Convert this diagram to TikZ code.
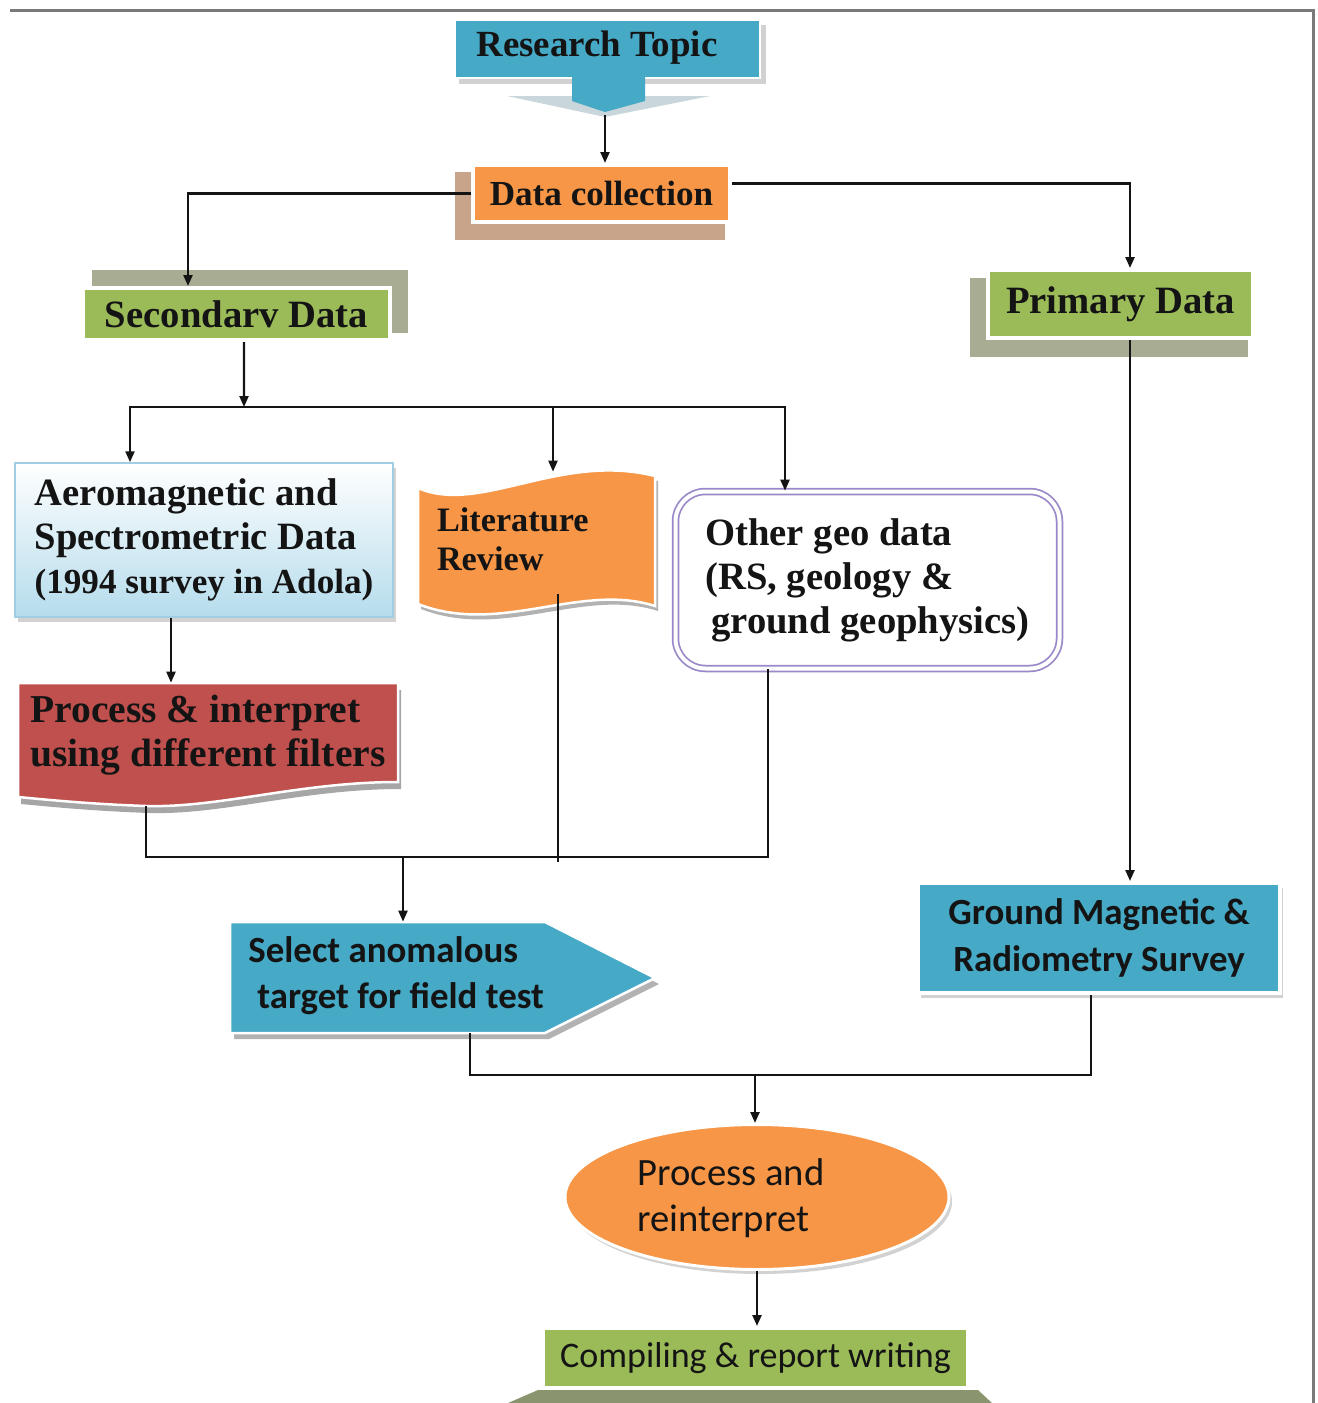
\documentclass[tikz,border=0pt]{standalone}
\usepackage{fontspec}
\setmainfont{Liberation Serif}
\newfontfamily\calibrifont{Carlito}
\usetikzlibrary{arrows.meta, shapes.geometric, shadows}
\definecolor{BLUE}{HTML}{46A9C6}
\definecolor{ORANGE}{HTML}{F79646}
\definecolor{GREEN}{HTML}{9BBB59}
\definecolor{RED}{HTML}{C0504D}
\definecolor{TAN}{HTML}{C8A58A}
\definecolor{OLIVE}{HTML}{A7AC92}
\definecolor{OLIVEDARK}{HTML}{8A9570}
\definecolor{PURPLE}{HTML}{9A88C8}
\definecolor{SKY}{HTML}{B5DCEC}
\definecolor{SKYLINE}{HTML}{A2CEE2}
\definecolor{SHADE}{HTML}{C9D6DC}
\definecolor{FRAME}{HTML}{7A7A7A}
\definecolor{INK}{HTML}{141414}

\begin{document}
\begin{tikzpicture}[x=0.2mm, y=-0.2mm, >={Triangle[length=2.2mm,width=1.8mm]},
    link/.style={INK, line width=0.45mm},
    serif/.style={text=INK, font=\bfseries\fontsize{22}{25}\selectfont},
    calib/.style={text=INK, font=\calibrifont\bfseries\fontsize{21}{26}\selectfont},
    wordbox/.style={rectangle, draw=white, line width=0.8mm, inner sep=0pt, align=left},
    bare/.style={rectangle, inner sep=0pt, align=left},
    softshadow/.style={drop shadow={shadow xshift=0.6mm, shadow yshift=-0.9mm, fill=black!35, opacity=0.5}}]
    \useasboundingbox (0,0) rectangle (1318,1403);
    % page frame
    \draw[FRAME, line width=0.6mm] (10,10) -- (1313,10) -- (1313,1403);

    % research topic callout
    \fill[black!18] (459,25) rectangle (766,84);
    \fill[SHADE] (507,96) -- (710,96) -- (605,117) -- cycle;
    \fill[BLUE, draw=white, line width=0.5mm] (455,20) rectangle (760,78);
    \fill[BLUE] (572,77) -- (645,77) -- (645,101) -- (605,112) -- (572,101) -- cycle;
    \node[serif, font=\bfseries\fontsize{21}{24}\selectfont] (topic) at (597,48) {Research Topic};
    \coordinate (topictip) at (605,115);

    % data collection and the two branches
    \fill[TAN] (455,172) rectangle (725,240);
    \node[wordbox, fill=ORANGE, serif, font=\bfseries\fontsize{20}{23}\selectfont,
          minimum width=51.4mm, minimum height=11.4mm] (collect) at (601.5,193.5) {Data collection};
    \fill[OLIVE] (92,270) rectangle (408,333);
    \node[wordbox, fill=GREEN, serif, minimum width=61.4mm, minimum height=10.4mm] (second) at (236.5,314) {Secondarv Data};
    \fill[OLIVE] (970,278) rectangle (1248,357);
    \node[wordbox, fill=GREEN, serif, minimum width=53mm, minimum height=13.6mm] (prim) at (1120.5,304) {Primary Data};

    % secondary sources
    \node[wordbox, draw=SKYLINE, line width=0.3mm, top color=white, bottom color=SKY, softshadow, serif,
          minimum width=75.6mm, minimum height=30.8mm] (aero) at (204,540)
          {Aeromagnetic and\\Spectrometric Data\\{\fontsize{20}{23}\selectfont(1994 survey in Adola)}};
    \fill[black!30, shift={(3,5)}] (418,488) .. controls (480,515) and (560,452) .. (655,476)
        -- (655,606) .. controls (580,582) and (500,636) .. (418,604) -- cycle;
    \fill[ORANGE, draw=white, line width=0.5mm] (418,488) .. controls (480,515) and (560,452) .. (655,476)
        -- (655,606) .. controls (580,582) and (500,636) .. (418,604) -- cycle;
    \node[bare, serif, font=\bfseries\fontsize{19.5}{22}\selectfont, text width=39.8mm,
          minimum width=47.4mm, minimum height=26.8mm] (lit) at (536.5,539) {Literature\\Review};
    \node[bare, rounded corners=6mm, draw=PURPLE, line width=0.35mm, double=white, double distance=0.8mm, serif,
          minimum width=76.8mm, minimum height=35.4mm] (other) at (867.5,580)
          {Other geo data\\(RS, geology \&\\\hspace*{1.2mm}ground geophysics)};

    % processing of the airborne data
    \fill[black!35, shift={(3,7)}] (18,683) -- (398,683) -- (398,782) .. controls (300,782) and (220,808) .. (146,806)
        .. controls (90,804) and (50,800) .. (18,797) -- cycle;
    \fill[RED, draw=white, line width=0.5mm] (18,683) -- (398,683) -- (398,782) .. controls (300,782) and (220,808) .. (146,806)
        .. controls (90,804) and (50,800) .. (18,797) -- cycle;
    \node[bare, serif, font=\bfseries\fontsize{22.5}{25}\selectfont,
          minimum width=76mm, minimum height=20.8mm] (proc) at (208,735) {Process \& interpret\\using different filters};

    % field work
    \fill[black!30, shift={(4,6)}] (230,922) -- (545,922) -- (655,978) -- (545,1033) -- (230,1033) -- cycle;
    \fill[BLUE, draw=white, line width=0.5mm] (230,922) -- (545,922) -- (655,978) -- (545,1033) -- (230,1033) -- cycle;
    \node[bare, minimum width=85mm, minimum height=22.2mm] (select) at (442.5,977.5) {};
    \node[bare, calib, anchor=west] (selecttext) at (248,976)
          {Select anomalous\\\hspace*{1.8mm}target for field test};
    \node[wordbox, fill=BLUE, softshadow, calib, align=center, font=\calibrifont\bfseries\fontsize{21}{27}\selectfont,
          minimum width=72.4mm, minimum height=22mm] (ground) at (1099,938) {Ground Magnetic \&\\Radiometry Survey};

    % final steps
    \node[ellipse, fill=ORANGE, draw=white, line width=0.6mm, softshadow,
          minimum width=76.8mm, minimum height=29mm] (reint) at (757,1197) {};
    \node[bare, text=INK, font=\calibrifont\fontsize{22}{26}\selectfont] (reinttext) at (731,1198) {Process and\\reinterpret};
    \fill[OLIVEDARK] (508,1403) -- (538,1390) -- (978,1390) -- (992,1403) -- cycle;
    \node[wordbox, fill=GREEN, text=INK, font=\calibrifont\fontsize{20.5}{24}\selectfont,
          minimum width=85mm, minimum height=12mm] (report) at (755.5,1358) {Compiling \& report writing};

    % connectors
    \coordinate (split) at (244,407);
    \coordinate (gather) at (403,857);
    \coordinate (merge) at (755,1075);
    \draw[link,->] (topictip) -- (topictip |- collect.north);
    \draw[link,->] (collect.west) -| ([xshift=-9.7mm]second.north);
    \draw[link,->] ([yshift=2mm]collect.east) -| ([xshift=1.9mm]prim.north);
    \draw[link,->] ([xshift=1.5mm]second.south) -- (split);
    \draw[link,->] (split) -| ([xshift=-14.8mm]aero.north);
    \draw[link,->] (split) -| ([xshift=-16.5mm]other.north);
    \draw[link,->] ([xshift=3.3mm]lit.north |- split) -- ([xshift=3.3mm]lit.north);
    \draw[link,->] ([xshift=-6.6mm]aero.south) -- ([xshift=-6.6mm]aero.south |- proc.north);
    \draw[link] ([xshift=-12.4mm,yshift=-3.8mm]proc.south) |- (gather) -| ([xshift=-19.9mm]other.south);
    \draw[link] ([xshift=4.3mm,yshift=2.4mm]lit.south) -- ([xshift=4.3mm,yshift=-1mm]lit.south |- gather);
    \draw[link,->] (gather) -- (gather |- select.north);
    \draw[link,->] ([xshift=1.9mm]prim.south) -- ([xshift=1.9mm]prim.south |- ground.north);
    \draw[link] ([xshift=5.5mm]select.south) |- (merge) -| ([xshift=-1.6mm]ground.south);
    \draw[link,->] (merge) -- (merge |- reint.north);
    \draw[link,->] (reint.south) -- (reint.south |- report.north);
\end{tikzpicture}
\end{document}
